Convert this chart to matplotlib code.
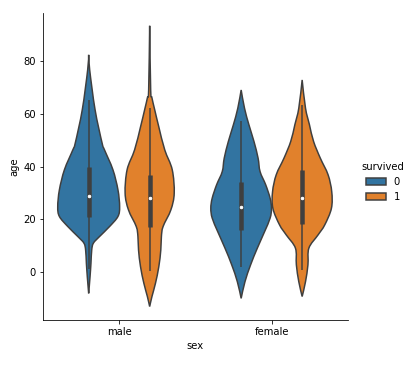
import numpy as np
import matplotlib
matplotlib.use("Agg")
import matplotlib.pyplot as plt
from matplotlib.patches import Patch, PathPatch
from matplotlib.path import Path

# categories
sexes = ['male', 'female']
survived_levels = ['0', '1']
colors = ['#3274a1', '#e1812c']
line_col = '#3f3f3f'

# violin outlines: age positions and half widths (category units)
male_0_age = [82.3, 76.6, 61.5, 48.9, 46.3, 38.8, 31.2, 24.8, 21.1, 17.3, 13.5, 11.0, 8.4, 3.4, -1.7, -8.0]
male_0_w = [0, 0.0066, 0.042, 0.088, 0.104, 0.159, 0.192, 0.203, 0.192, 0.137, 0.071, 0.031, 0.020, 0.015, 0.009, 0]
male_1_age = [93.3, 69.0, 66.0, 61.5, 55.0, 46.3, 38.8, 29.9, 23.6, 17.3, 13.5, 8.4, 2.1, -4.2, -9.2, -13.0]
male_1_w = [0, 0.0066, 0.015, 0.033, 0.060, 0.099, 0.148, 0.161, 0.139, 0.088, 0.077, 0.073, 0.060, 0.038, 0.015, 0]
female_0_age = [69.0, 62.1, 55.8, 49.5, 43.2, 38.1, 33.1, 28.0, 24.2, 20.5, 15.4, 9.1, 2.8, -3.6, -9.9]
female_0_w = [0, 0.022, 0.051, 0.084, 0.111, 0.124, 0.161, 0.190, 0.199, 0.190, 0.154, 0.106, 0.062, 0.025, 0]
female_1_age = [72.8, 62.1, 55.8, 49.5, 43.2, 36.9, 30.5, 24.2, 17.9, 14.1, 9.1, 2.8, -3.6, -9.2]
female_1_w = [0, 0.022, 0.048, 0.075, 0.119, 0.170, 0.194, 0.192, 0.148, 0.104, 0.044, 0.038, 0.022, 0]

# box stats: q1, median, q3, lower whisker, upper whisker
male_0_box = [20.8, 28.9, 40.0, 1.1, 65.3]
male_1_box = [17.0, 28.0, 36.9, 0.5, 62.1]
female_0_box = [15.8, 24.7, 34.1, 1.9, 57.3]
female_1_box = [18.3, 28.0, 38.8, 0.9, 63.4]

violins = {
    ('male', '0'): (male_0_age, male_0_w, male_0_box),
    ('male', '1'): (male_1_age, male_1_w, male_1_box),
    ('female', '0'): (female_0_age, female_0_w, female_0_box),
    ('female', '1'): (female_1_age, female_1_w, female_1_box),
}


def side_path(pts):
    # bezier segments through the points (catmull-rom style handles)
    pts = np.asarray(pts)
    verts = [pts[0]]
    codes = []
    n = len(pts)
    for k in range(n - 1):
        p0 = pts[max(k - 1, 0)]
        p1 = pts[k]
        p2 = pts[k + 1]
        p3 = pts[min(k + 2, n - 1)]
        verts += [p1 + (p2 - p0) / 6, p2 - (p3 - p1) / 6, p2]
        codes += [Path.CURVE4] * 3
    return verts, codes


def violin_patch(x, age, w, color):
    age = np.array(age)
    w = np.array(w)
    right = np.column_stack([x + w, age])
    left = np.column_stack([x - w, age])[::-1]
    v1, c1 = side_path(right)
    v2, c2 = side_path(left)
    verts = v1 + v2[1:] + [v1[0]]
    codes = [Path.MOVETO] + c1 + c2 + [Path.CLOSEPOLY]
    return PathPatch(Path(verts, codes), facecolor=color, edgecolor=line_col,
                     linewidth=1.5, zorder=1)


fig = plt.figure(figsize=(405 / 72, 367 / 72), dpi=72)
ax = fig.add_axes([0.106, 0.128, 0.753, 0.837])

for i, sex in enumerate(sexes):
    for j, s in enumerate(survived_levels):
        age, w, box = violins[(sex, s)]
        x = i + (j - 0.5) * 0.4
        ax.add_patch(violin_patch(x, age, w, colors[j]))
        q1, med, q3, lo, hi = box
        ax.vlines(x, lo, hi, color=line_col, linewidth=1.5, zorder=2)
        ax.vlines(x, q1, q3, color=line_col, linewidth=4.5, zorder=2)
        ax.scatter([x], [med], s=6, color='white', zorder=3)

ax.set_xlim(-0.5, 1.5)
ax.set_ylim(-18.1, 98.2)
ax.set_xticks(range(len(sexes)))
ax.set_xticklabels(sexes)
ax.set_yticks([0, 20, 40, 60, 80])
ax.set_xlabel('sex')
ax.set_ylabel('age')
ax.spines['top'].set_visible(False)
ax.spines['right'].set_visible(False)

handles = [Patch(facecolor=c, edgecolor=line_col, linewidth=1.5) for c in colors]
fig.legend(handles, survived_levels, title='survived', loc='center left',
           bbox_to_anchor=(0.87, 0.505), frameon=False)

fig.savefig('out.png', dpi=72)
